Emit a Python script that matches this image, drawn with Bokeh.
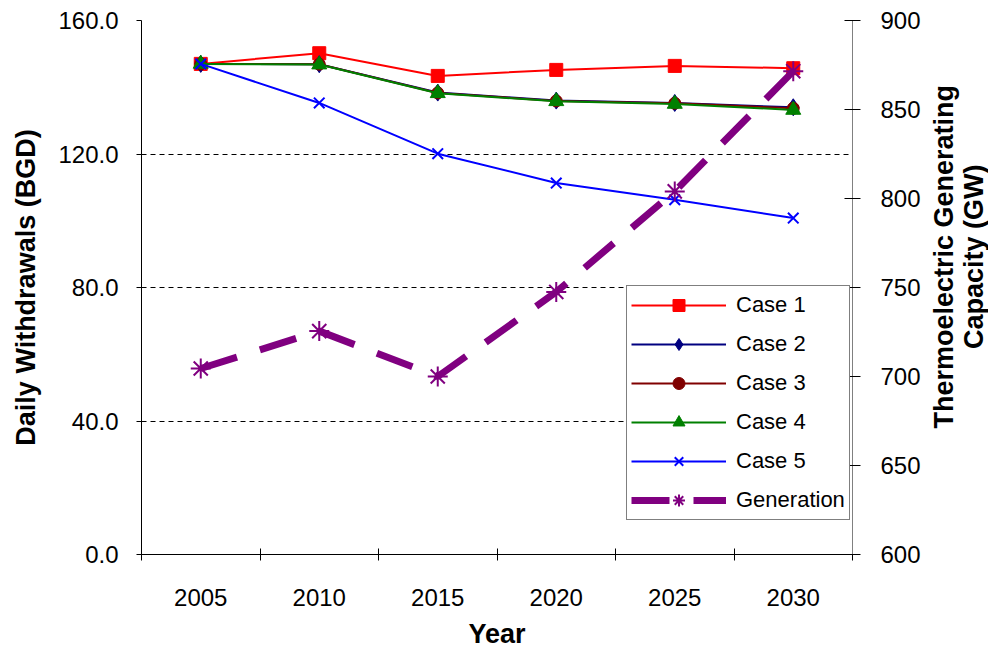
import math
from bokeh.plotting import figure
from bokeh.layouts import row
from bokeh.models import (Range1d, LinearAxis, FixedTicker, Legend, LegendItem,
                          NumeralTickFormatter)
from bokeh.core.properties import value
from bokeh.embed import file_html
from bokeh.resources import INLINE

years = ["2005", "2010", "2015", "2020", "2025", "2030"]
case1 = [147.0, 150.2, 143.4, 145.2, 146.4, 145.7]
case2 = [147.0, 146.9, 138.4, 136.0, 135.3, 134.0]
case3 = [147.0, 146.9, 138.3, 135.9, 135.2, 133.7]
case4 = [147.0, 146.8, 138.2, 135.8, 135.0, 133.2]
case5 = [147.0, 135.3, 120.1, 111.3, 106.3, 100.8]
generation = [704.5, 725.5, 700.0, 747.5, 804.0, 871.5]
left_ticks = [0, 40, 80, 120, 160]
right_ticks = [600, 650, 700, 750, 800, 850, 900]
right_title = ["Thermoelectric Generating", "Capacity (GW)"]

FONT = "Liberation Sans"
xs = [i + 0.5 for i in range(len(years))]

W_MAIN, W_SIDE, H = 928, 60, 651

p = figure(width=W_MAIN, height=H, output_backend="svg", toolbar_location=None,
           x_range=Range1d(0, len(years)), y_range=Range1d(0, 160),
           min_border_left=141, min_border_right=76, min_border_top=20,
           min_border_bottom=97)
p.outline_line_color = None
p.background_fill_color = "white"
p.border_fill_color = "white"
p.extra_y_ranges = {"gen": Range1d(600, 900)}

# bottom axis
xa = p.xaxis[0]
xa.ticker = FixedTicker(ticks=xs, minor_ticks=list(range(len(years) + 1)))
xa.major_label_overrides = {x: y for x, y in zip(xs, years)}
xa.major_tick_in = 0
xa.major_tick_out = 0
xa.minor_tick_in = 6
xa.minor_tick_out = 6
xa.minor_tick_line_color = "black"
xa.axis_line_color = "black"
xa.major_label_standoff = 28
xa.major_label_text_font = FONT
xa.major_label_text_font_size = "24px"
xa.major_label_text_color = "black"
xa.axis_label = "Year"
xa.axis_label_text_font = FONT
xa.axis_label_text_font_style = "bold"
xa.axis_label_text_font_size = "27px"
xa.axis_label_standoff = 10
xa.axis_label_text_color = "black"

# left axis
ya = p.yaxis[0]
ya.ticker = FixedTicker(ticks=left_ticks)
ya.formatter = NumeralTickFormatter(format="0.0")
ya.major_tick_in = 0
ya.major_tick_out = 5
ya.minor_tick_line_color = None
ya.axis_line_color = "black"
ya.major_label_standoff = 18
ya.major_label_text_font = FONT
ya.major_label_text_font_size = "24px"
ya.major_label_text_color = "black"
ya.axis_label = "Daily Withdrawals (BGD)"
ya.axis_label_text_font = FONT
ya.axis_label_text_font_style = "bold"
ya.axis_label_text_font_size = "27px"
ya.axis_label_standoff = 14
ya.axis_label_text_color = "black"

# right axis
ra = LinearAxis(y_range_name="gen", ticker=FixedTicker(ticks=right_ticks))
ra.major_tick_in = 8
ra.major_tick_out = 8
ra.minor_tick_line_color = None
ra.axis_line_color = "#808080"
ra.major_label_standoff = 20
ra.major_label_text_font = FONT
ra.major_label_text_font_size = "24px"
ra.major_label_text_color = "black"
p.add_layout(ra, "right")

p.xgrid.visible = False
p.ygrid.ticker = FixedTicker(ticks=left_ticks[1:])
p.ygrid.grid_line_color = "black"
p.ygrid.grid_line_dash = "5 4"
p.ygrid.grid_line_width = 1

series = [
    ("Case 1", case1, "#FF0000", "square", 13),
    ("Case 2", case2, "#000080", "diamond", 17),
    ("Case 3", case3, "#800000", "circle", 12),
    ("Case 4", case4, "#008000", "triangle", 15),
    ("Case 5", case5, "#0000FF", "x", 15),
]
items = []
for name, vals, col, mk, sz in series:
    l = p.line(xs, vals, line_color=col, line_width=2)
    if mk == "x":
        s = p.scatter(xs, vals, marker=mk, size=sz, line_color=col, line_width=2)
    else:
        s = p.scatter(xs, vals, marker=mk, size=sz, fill_color=col, line_color=col)
    items.append(LegendItem(label=name, renderers=[l, s]))

gl = p.line(xs, generation, y_range_name="gen", line_color="#800080",
            line_width=7, line_dash="38 24")
gs = p.scatter(xs, generation, y_range_name="gen", marker="asterisk", size=20,
               line_color="#800080", line_width=2)
items.append(LegendItem(label="Generation", renderers=[gl, gs]))

legend = Legend(items=items, location=(485, 34))
legend.border_line_color = "black"
legend.border_line_width = 1
legend.background_fill_color = "white"
legend.background_fill_alpha = 1
legend.label_text_font = FONT
legend.label_text_font_size = "22px"
legend.label_text_color = "black"
legend.glyph_width = 95
legend.glyph_height = 30
legend.label_height = 30
legend.spacing = 9
legend.padding = 4
legend.margin = 0
legend.label_standoff = 10
p.add_layout(legend, "center")

# side panel holding the right axis title (rotated, reading bottom-to-top)
side = figure(width=W_SIDE, height=H, output_backend="svg", toolbar_location=None,
              x_range=Range1d(0, W_SIDE), y_range=Range1d(0, H),
              min_border=0, min_border_left=0, min_border_right=0,
              min_border_top=0, min_border_bottom=0)
side.axis.visible = False
side.grid.visible = False
side.outline_line_color = None
side.background_fill_color = "white"
side.border_fill_color = "white"
side.text(x=[15, 45], y=[H - 288, H - 288], text=right_title,
          angle=math.pi / 2, text_align="center", text_baseline="middle",
          text_font=value(FONT), text_font_style="bold", text_font_size="27px",
          text_color="black")

layout = row(p, side, spacing=0)
open("out.html", "w").write(file_html(layout, INLINE))
